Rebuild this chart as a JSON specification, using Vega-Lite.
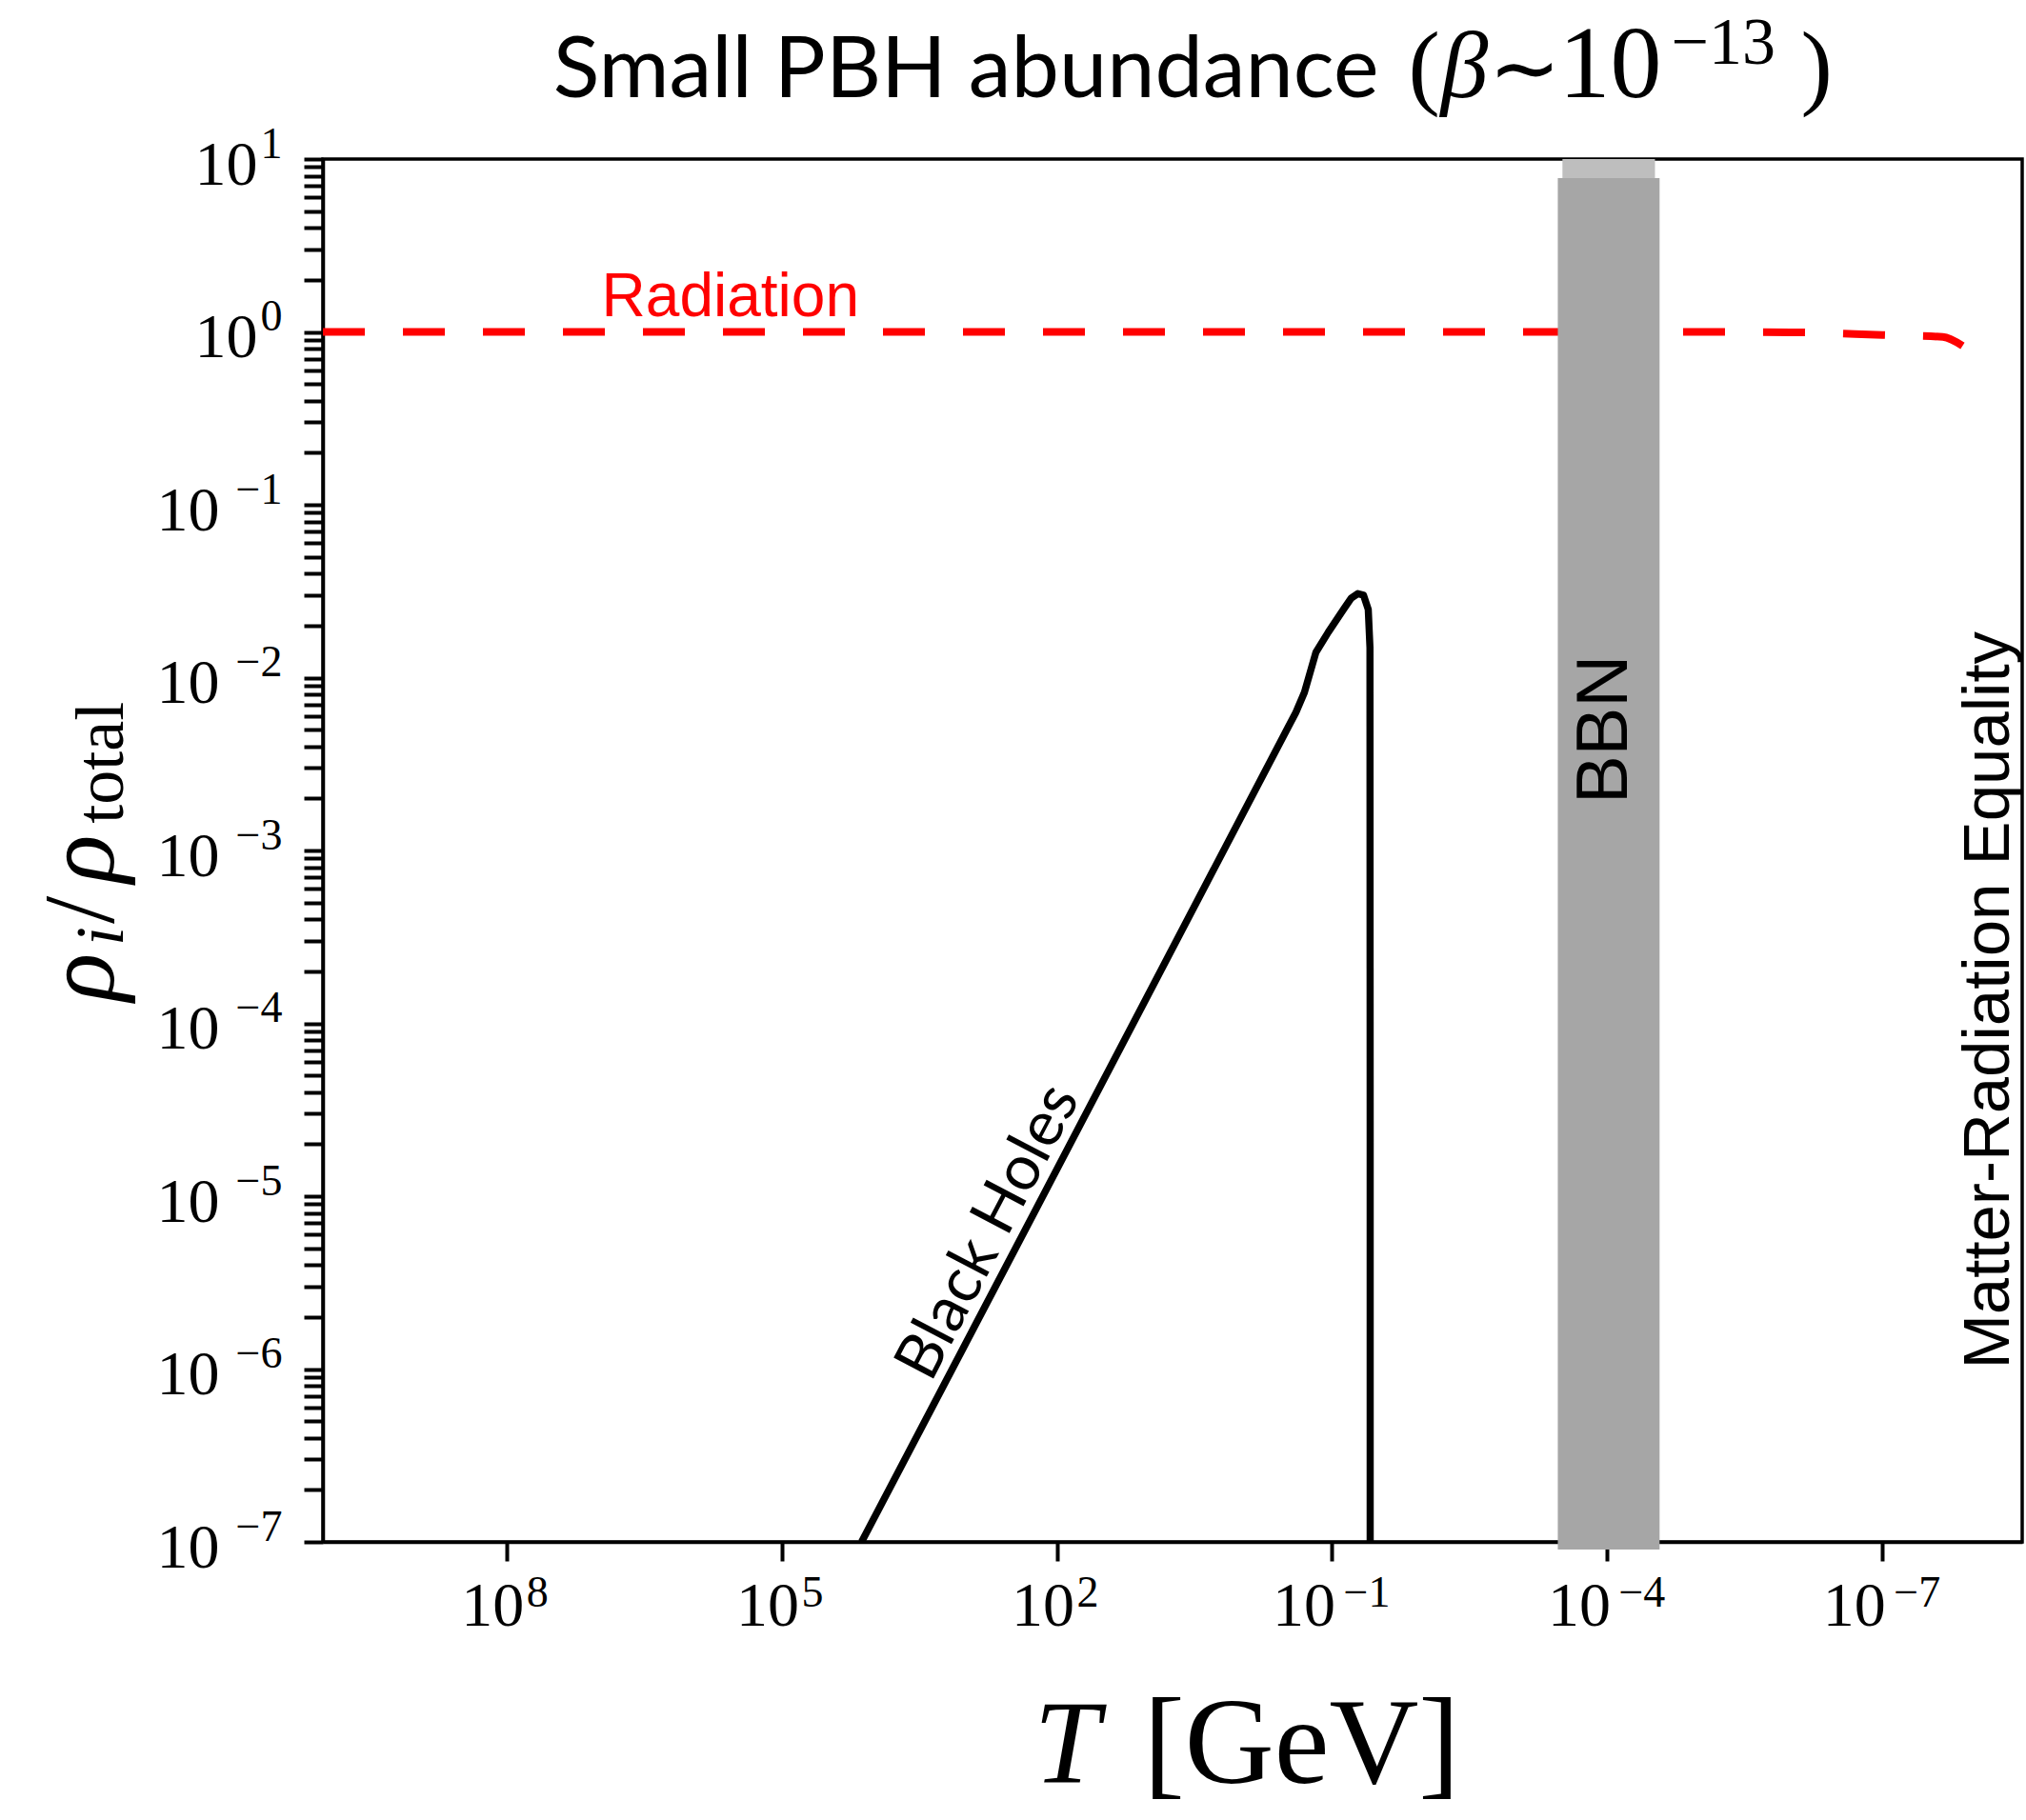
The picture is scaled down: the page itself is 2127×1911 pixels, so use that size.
{
  "$schema": "https://vega.github.io/schema/vega-lite/v6.json",
  "width": 1784,
  "height": 1452,
  "autosize": {"type": "none"},
  "padding": {"left": 339, "top": 167, "right": 4, "bottom": 292},
  "background": "white",
  "config": {"view": {"stroke": "black", "strokeWidth": 3.5}},
  "datasets": {
    "radiation": [
      {"T": 1e10, "rho": 1.0},
      {"T": 1e-5, "rho": 1.0},
      {"T": 1e-6, "rho": 0.995},
      {"T": 1e-7, "rho": 0.96},
      {"T": 2.2e-8, "rho": 0.935},
      {"T": 1.34e-8, "rho": 0.83}
    ],
    "blackholes": [
      {"i": 0, "T": 13430, "rho": 1e-7},
      {"i": 1, "T": 127, "rho": 1.12e-5},
      {"i": 2, "T": 0.2477, "rho": 0.0063},
      {"i": 3, "T": 0.2, "rho": 0.00822},
      {"i": 4, "T": 0.15, "rho": 0.014},
      {"i": 5, "T": 0.11, "rho": 0.0183},
      {"i": 6, "T": 0.075, "rho": 0.0248},
      {"i": 7, "T": 0.0619, "rho": 0.0288},
      {"i": 8, "T": 0.0524, "rho": 0.0306},
      {"i": 9, "T": 0.0454, "rho": 0.03},
      {"i": 10, "T": 0.0403, "rho": 0.0248},
      {"i": 11, "T": 0.0386, "rho": 0.0149},
      {"i": 12, "T": 0.0384, "rho": 2.04e-5},
      {"i": 13, "T": 0.0384, "rho": 1e-7}
    ],
    "bbn": [
      {"part": "band", "T0": 3.46e-4, "T1": 2.69e-5, "rho0": 9.03e-8, "rho1": 7.76},
      {"part": "cap", "T0": 3.08e-4, "T1": 3.02e-5, "rho0": 7.76, "rho1": 10}
    ],
    "notes": [
      {"id": "title", "text": "Small PBH abundance", "T": 0.031, "rho": 22.8},
      {"id": "lparen", "text": "(", "T": 0.01476, "rho": 22.8},
      {"id": "beta", "text": "β", "T": 6.55e-3, "rho": 22.8},
      {"id": "sim", "text": "∼", "T": 1.98e-3, "rho": 22.8},
      {"id": "ten", "text": "10", "T": 3.38e-4, "rho": 22.8},
      {"id": "exp", "text": "−13", "T": 2.01e-5, "rho": 35.5},
      {"id": "rparen", "text": ")", "T": 7.8e-7, "rho": 22.8},
      {"id": "radiation", "text": "Radiation", "T": 9.17e6, "rho": 1.233},
      {"id": "bh", "text": "Black Holes", "T": 363, "rho": 5.51e-6},
      {"id": "bbn", "text": "BBN", "T": 6.05e-5, "rho": 5.01e-3},
      {"id": "mre", "text": "Matter-Radiation Equality", "T": 4.16e-9, "rho": 1.36e-4},
      {"id": "xT", "text": "T", "T": 177, "rho": 4.04e-9},
      {"id": "xunit", "text": "[GeV]", "T": 11.35, "rho": 4.04e-9},
      {"id": "yrho1", "text": "ρ", "T": 1.94e12, "rho": 1.345e-4},
      {"id": "ysub1", "text": "i", "T": 1.53e12, "rho": 2.81e-4},
      {"id": "yslash", "text": "/", "T": 1.94e12, "rho": 3.77e-4},
      {"id": "yrho2", "text": "ρ", "T": 1.94e12, "rho": 6.5e-4},
      {"id": "ysub2", "text": "total", "T": 1.53e12, "rho": 1.43e-3}
    ]
  },
  "layer": [
    {
      "data": {"name": "radiation"},
      "mark": {"type": "line", "color": "#ff0000", "strokeWidth": 8, "strokeDash": [44, 40], "interpolate": "monotone", "clip": true},
      "encoding": {
        "x": {"field": "T", "type": "quantitative",
          "scale": {"type": "log", "domain": [3e-9, 1e10], "reverse": true, "nice": false},
          "axis": {"orient": "bottom", "values": [1e8, 1e5, 100, 0.1, 1e-4, 1e-7],
            "labelExpr": "format(round(log(datum.value)/LN10), 'd')",
            "ticks": false, "tickSize": 0, "domain": false, "grid": false, "title": null,
            "labelFont": "Liberation Serif", "labelFontSize": 46, "labelColor": "black",
            "labelBaseline": "top", "labelAlign": "center", "labelPadding": 31,
            "labelOffset": {"condition": {"test": "datum.value > 1", "value": 32}, "value": 36},
            "labelOverlap": false, "labelFlush": false, "labelBound": false}},
        "y": {"field": "rho", "type": "quantitative",
          "scale": {"type": "log", "domain": [1e-7, 10], "nice": false},
          "axis": {"orient": "left", "values": [1e-7, 1e-6, 1e-5, 1e-4, 0.001, 0.01, 0.1, 1, 10],
            "labelExpr": "format(round(log(datum.value)/LN10), 'd')",
            "ticks": false, "tickSize": 0, "domain": false, "grid": false, "title": null,
            "labelFont": "Liberation Serif", "labelFontSize": 46, "labelColor": "black",
            "labelBaseline": "middle", "labelAlign": "right", "labelPadding": 43, "labelOffset": -16,
            "labelOverlap": false, "labelFlush": false, "labelBound": false}}
      }
    },
    {
      "data": {"name": "bbn"},
      "mark": {"type": "rect"},
      "encoding": {
        "x": {"field": "T0", "type": "quantitative",
          "scale": {"type": "log", "domain": [3e-9, 1e10], "reverse": true, "nice": false},
          "axis": {"orient": "bottom", "values": [1e8, 1e5, 100, 0.1, 1e-4, 1e-7],
            "labelExpr": "'10'", "grid": false, "title": null,
            "tickSize": 20, "tickWidth": 4, "tickColor": "black",
            "domainColor": "black", "domainWidth": 3.5,
            "labelFont": "Liberation Serif", "labelFontSize": 66, "labelColor": "black",
            "labelBaseline": "top", "labelAlign": "center", "labelPadding": 15,
            "labelOffset": {"condition": {"test": "datum.value > 1", "value": -15}, "value": -30},
            "labelOverlap": false, "labelFlush": false, "labelBound": false}},
        "x2": {"field": "T1"},
        "y": {"field": "rho0", "type": "quantitative",
          "scale": {"type": "log", "domain": [1e-7, 10], "nice": false},
          "axis": {"orient": "left",
            "values": [1e-7, 2e-7, 3e-7, 4e-7, 5e-7, 6e-7, 7e-7, 8e-7, 9e-7,
                       1e-6, 2e-6, 3e-6, 4e-6, 5e-6, 6e-6, 7e-6, 8e-6, 9e-6,
                       1e-5, 2e-5, 3e-5, 4e-5, 5e-5, 6e-5, 7e-5, 8e-5, 9e-5,
                       1e-4, 2e-4, 3e-4, 4e-4, 5e-4, 6e-4, 7e-4, 8e-4, 9e-4,
                       0.001, 0.002, 0.003, 0.004, 0.005, 0.006, 0.007, 0.008, 0.009,
                       0.01, 0.02, 0.03, 0.04, 0.05, 0.06, 0.07, 0.08, 0.09,
                       0.1, 0.2, 0.3, 0.4, 0.5, 0.6, 0.7, 0.8, 0.9,
                       1, 2, 3, 4, 5, 6, 7, 8, 9, 10],
            "labelExpr": "abs(log(datum.value)/LN10 - round(log(datum.value)/LN10)) < 0.000001 ? '10' : ''",
            "grid": false, "title": null,
            "tickSize": 20, "tickWidth": 4, "tickColor": "black",
            "domainColor": "black", "domainWidth": 3.5,
            "labelFont": "Liberation Serif", "labelFontSize": 66, "labelColor": "black",
            "labelBaseline": "middle", "labelAlign": "right",
            "labelPadding": {"condition": {"test": "datum.value > 0.5", "value": 49}, "value": 89},
            "labelOffset": 6,
            "labelOverlap": false, "labelFlush": false, "labelBound": false}},
        "y2": {"field": "rho1"},
        "color": {"field": "part", "type": "nominal",
          "scale": {"domain": ["band", "cap"], "range": ["#a6a6a6", "#bebebe"]}, "legend": null}
      }
    },
    {
      "data": {"name": "blackholes"},
      "mark": {"type": "line", "color": "black", "strokeWidth": 7.5, "strokeJoin": "round", "strokeCap": "butt", "clip": true},
      "encoding": {
        "x": {"field": "T", "type": "quantitative", "scale": {"type": "log", "domain": [3e-9, 1e10], "reverse": true, "nice": false}, "axis": null},
        "y": {"field": "rho", "type": "quantitative", "scale": {"type": "log", "domain": [1e-7, 10], "nice": false}, "axis": null},
        "order": {"field": "i", "type": "quantitative"}
      }
    },
    {
      "data": {"name": "notes"},
      "transform": [{"filter": "datum.id == 'title'"}],
      "mark": {"type": "text", "font": "Lato", "fontSize": 90, "align": "right", "baseline": "alphabetic", "color": "black"},
      "encoding": {
        "x": {"field": "T", "type": "quantitative", "scale": {"type": "log", "domain": [3e-9, 1e10], "reverse": true, "nice": false}, "axis": null},
        "y": {"field": "rho", "type": "quantitative", "scale": {"type": "log", "domain": [1e-7, 10], "nice": false}, "axis": null},
        "text": {"field": "text"}
      }
    },
    {
      "data": {"name": "notes"},
      "transform": [{"filter": "indexof(['lparen', 'rparen'], datum.id) >= 0"}],
      "mark": {"type": "text", "font": "Liberation Serif", "fontSize": 100, "align": "left", "baseline": "alphabetic", "color": "black"},
      "encoding": {
        "x": {"field": "T", "type": "quantitative", "scale": {"type": "log", "domain": [3e-9, 1e10], "reverse": true, "nice": false}, "axis": null},
        "y": {"field": "rho", "type": "quantitative", "scale": {"type": "log", "domain": [1e-7, 10], "nice": false}, "axis": null},
        "text": {"field": "text"}
      }
    },
    {
      "data": {"name": "notes"},
      "transform": [{"filter": "datum.id == 'sim'"}],
      "mark": {"type": "text", "font": "Liberation Serif", "fontSize": 90, "align": "left", "baseline": "alphabetic", "color": "black"},
      "encoding": {
        "x": {"field": "T", "type": "quantitative", "scale": {"type": "log", "domain": [3e-9, 1e10], "reverse": true, "nice": false}, "axis": null},
        "y": {"field": "rho", "type": "quantitative", "scale": {"type": "log", "domain": [1e-7, 10], "nice": false}, "axis": null},
        "text": {"field": "text"}
      }
    },
    {
      "data": {"name": "notes"},
      "transform": [{"filter": "datum.id == 'ten'"}],
      "mark": {"type": "text", "font": "Liberation Serif", "fontSize": 108, "align": "left", "baseline": "alphabetic", "color": "black"},
      "encoding": {
        "x": {"field": "T", "type": "quantitative", "scale": {"type": "log", "domain": [3e-9, 1e10], "reverse": true, "nice": false}, "axis": null},
        "y": {"field": "rho", "type": "quantitative", "scale": {"type": "log", "domain": [1e-7, 10], "nice": false}, "axis": null},
        "text": {"field": "text"}
      }
    },
    {
      "data": {"name": "notes"},
      "transform": [{"filter": "datum.id == 'beta'"}],
      "mark": {"type": "text", "font": "Liberation Serif", "fontStyle": "italic", "fontSize": 100, "align": "left", "baseline": "alphabetic", "color": "black"},
      "encoding": {
        "x": {"field": "T", "type": "quantitative", "scale": {"type": "log", "domain": [3e-9, 1e10], "reverse": true, "nice": false}, "axis": null},
        "y": {"field": "rho", "type": "quantitative", "scale": {"type": "log", "domain": [1e-7, 10], "nice": false}, "axis": null},
        "text": {"field": "text"}
      }
    },
    {
      "data": {"name": "notes"},
      "transform": [{"filter": "datum.id == 'exp'"}],
      "mark": {"type": "text", "font": "Liberation Serif", "fontSize": 70, "align": "left", "baseline": "alphabetic", "color": "black"},
      "encoding": {
        "x": {"field": "T", "type": "quantitative", "scale": {"type": "log", "domain": [3e-9, 1e10], "reverse": true, "nice": false}, "axis": null},
        "y": {"field": "rho", "type": "quantitative", "scale": {"type": "log", "domain": [1e-7, 10], "nice": false}, "axis": null},
        "text": {"field": "text"}
      }
    },
    {
      "data": {"name": "notes"},
      "transform": [{"filter": "datum.id == 'radiation'"}],
      "mark": {"type": "text", "font": "Liberation Sans", "fontSize": 64, "align": "left", "baseline": "alphabetic", "color": "#ff0000"},
      "encoding": {
        "x": {"field": "T", "type": "quantitative", "scale": {"type": "log", "domain": [3e-9, 1e10], "reverse": true, "nice": false}, "axis": null},
        "y": {"field": "rho", "type": "quantitative", "scale": {"type": "log", "domain": [1e-7, 10], "nice": false}, "axis": null},
        "text": {"field": "text"}
      }
    },
    {
      "data": {"name": "notes"},
      "transform": [{"filter": "datum.id == 'bh'"}],
      "mark": {"type": "text", "font": "Lato", "fontSize": 66, "align": "center", "baseline": "alphabetic", "angle": 297.6, "color": "black"},
      "encoding": {
        "x": {"field": "T", "type": "quantitative", "scale": {"type": "log", "domain": [3e-9, 1e10], "reverse": true, "nice": false}, "axis": null},
        "y": {"field": "rho", "type": "quantitative", "scale": {"type": "log", "domain": [1e-7, 10], "nice": false}, "axis": null},
        "text": {"field": "text"}
      }
    },
    {
      "data": {"name": "notes"},
      "transform": [{"filter": "datum.id == 'bbn'"}],
      "mark": {"type": "text", "font": "Liberation Sans", "fontSize": 76, "align": "center", "baseline": "alphabetic", "angle": 270, "color": "black"},
      "encoding": {
        "x": {"field": "T", "type": "quantitative", "scale": {"type": "log", "domain": [3e-9, 1e10], "reverse": true, "nice": false}, "axis": null},
        "y": {"field": "rho", "type": "quantitative", "scale": {"type": "log", "domain": [1e-7, 10], "nice": false}, "axis": null},
        "text": {"field": "text"}
      }
    },
    {
      "data": {"name": "notes"},
      "transform": [{"filter": "datum.id == 'mre'"}],
      "mark": {"type": "text", "font": "Liberation Sans", "fontSize": 69, "align": "center", "baseline": "alphabetic", "angle": 270, "color": "black"},
      "encoding": {
        "x": {"field": "T", "type": "quantitative", "scale": {"type": "log", "domain": [3e-9, 1e10], "reverse": true, "nice": false}, "axis": null},
        "y": {"field": "rho", "type": "quantitative", "scale": {"type": "log", "domain": [1e-7, 10], "nice": false}, "axis": null},
        "text": {"field": "text"}
      }
    },
    {
      "data": {"name": "notes"},
      "transform": [{"filter": "datum.id == 'xT'"}],
      "mark": {"type": "text", "font": "Liberation Serif", "fontStyle": "italic", "fontSize": 124, "align": "left", "baseline": "alphabetic", "color": "black"},
      "encoding": {
        "x": {"field": "T", "type": "quantitative", "scale": {"type": "log", "domain": [3e-9, 1e10], "reverse": true, "nice": false}, "axis": null},
        "y": {"field": "rho", "type": "quantitative", "scale": {"type": "log", "domain": [1e-7, 10], "nice": false}, "axis": null},
        "text": {"field": "text"}
      }
    },
    {
      "data": {"name": "notes"},
      "transform": [{"filter": "datum.id == 'xunit'"}],
      "mark": {"type": "text", "font": "Liberation Serif", "fontSize": 130, "align": "left", "baseline": "alphabetic", "color": "black"},
      "encoding": {
        "x": {"field": "T", "type": "quantitative", "scale": {"type": "log", "domain": [3e-9, 1e10], "reverse": true, "nice": false}, "axis": null},
        "y": {"field": "rho", "type": "quantitative", "scale": {"type": "log", "domain": [1e-7, 10], "nice": false}, "axis": null},
        "text": {"field": "text"}
      }
    },
    {
      "data": {"name": "notes"},
      "transform": [{"filter": "datum.id == 'yrho1' || datum.id == 'yrho2'"}],
      "mark": {"type": "text", "font": "Liberation Serif", "fontStyle": "italic", "fontSize": 105, "align": "left", "baseline": "alphabetic", "angle": 270, "color": "black"},
      "encoding": {
        "x": {"field": "T", "type": "quantitative", "scale": {"type": "log", "domain": [3e-9, 1e10], "reverse": true, "nice": false}, "axis": null},
        "y": {"field": "rho", "type": "quantitative", "scale": {"type": "log", "domain": [1e-7, 10], "nice": false}, "axis": null},
        "text": {"field": "text"}
      }
    },
    {
      "data": {"name": "notes"},
      "transform": [{"filter": "datum.id == 'yslash'"}],
      "mark": {"type": "text", "font": "Liberation Serif", "fontSize": 105, "align": "left", "baseline": "alphabetic", "angle": 270, "color": "black"},
      "encoding": {
        "x": {"field": "T", "type": "quantitative", "scale": {"type": "log", "domain": [3e-9, 1e10], "reverse": true, "nice": false}, "axis": null},
        "y": {"field": "rho", "type": "quantitative", "scale": {"type": "log", "domain": [1e-7, 10], "nice": false}, "axis": null},
        "text": {"field": "text"}
      }
    },
    {
      "data": {"name": "notes"},
      "transform": [{"filter": "datum.id == 'ysub1'"}],
      "mark": {"type": "text", "font": "Liberation Serif", "fontStyle": "italic", "fontSize": 72, "align": "left", "baseline": "alphabetic", "angle": 270, "color": "black"},
      "encoding": {
        "x": {"field": "T", "type": "quantitative", "scale": {"type": "log", "domain": [3e-9, 1e10], "reverse": true, "nice": false}, "axis": null},
        "y": {"field": "rho", "type": "quantitative", "scale": {"type": "log", "domain": [1e-7, 10], "nice": false}, "axis": null},
        "text": {"field": "text"}
      }
    },
    {
      "data": {"name": "notes"},
      "transform": [{"filter": "datum.id == 'ysub2'"}],
      "mark": {"type": "text", "font": "Liberation Serif", "fontSize": 72, "align": "left", "baseline": "alphabetic", "angle": 270, "color": "black"},
      "encoding": {
        "x": {"field": "T", "type": "quantitative", "scale": {"type": "log", "domain": [3e-9, 1e10], "reverse": true, "nice": false}, "axis": null},
        "y": {"field": "rho", "type": "quantitative", "scale": {"type": "log", "domain": [1e-7, 10], "nice": false}, "axis": null},
        "text": {"field": "text"}
      }
    }
  ],
  "resolve": {"axis": {"x": "independent", "y": "independent"}}
}
